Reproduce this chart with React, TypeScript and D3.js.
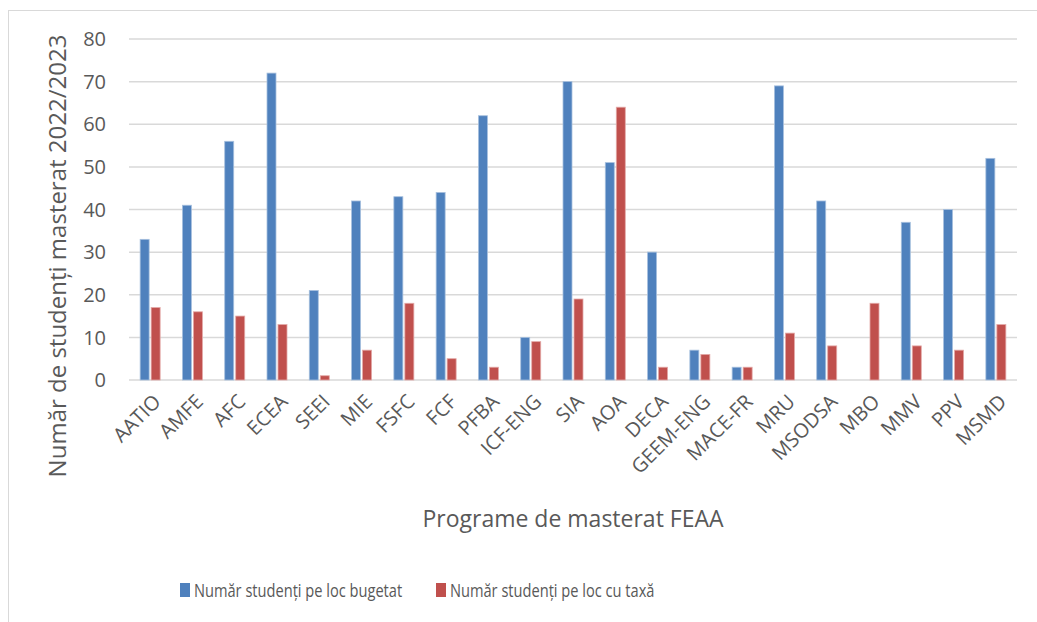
import React, { useRef, useEffect } from 'react';
import * as d3 from 'd3';

const programs = ['AATIO', 'AMFE', 'AFC', 'ECEA', 'SEEI', 'MIE', 'FSFC', 'FCF', 'PFBA', 'ICF-ENG', 'SIA', 'AOA', 'DECA', 'GEEM-ENG', 'MACE-FR', 'MRU', 'MSODSA', 'MBO', 'MMV', 'PPV', 'MSMD'];
const budgetValues = [33, 41, 56, 72, 21, 42, 43, 44, 62, 10, 70, 51, 30, 7, 3, 69, 42, 0, 37, 40, 52];
const feeValues = [17, 16, 15, 13, 1, 7, 18, 5, 3, 9, 19, 64, 3, 6, 3, 11, 8, 18, 8, 7, 13];
const seriesNames = ['Număr studenți pe loc bugetat', 'Număr studenți pe loc cu taxă'];
const yTicks = [0, 10, 20, 30, 40, 50, 60, 70, 80];

const App: React.FC = () => {
  const svgRef = useRef<SVGSVGElement>(null);

  useEffect(() => {
    if (!svgRef.current) return;
    const svg = d3.select(svgRef.current);
    svg.selectAll('*').remove();

    const width = 1037;
    const height = 622;
    const font = "'Open Sans', sans-serif";
    const textColor = '#595959';
    const colors = ['#4F81BD', '#C0504D'];
    const plot = { left: 129, right: 1017, top: 39, bottom: 380 };

    svg.attr('width', width).attr('height', height);

    svg.append('rect')
      .attr('x', 8.5).attr('y', 10.5)
      .attr('width', 1040).attr('height', 640)
      .attr('fill', 'white')
      .attr('stroke', '#D9D9D9');

    const x = d3.scaleBand<string>()
      .domain(programs)
      .range([plot.left, plot.right]);

    const y = d3.scaleLinear()
      .domain([0, 80])
      .range([plot.bottom, plot.top]);

    // gridlines
    svg.append('g')
      .selectAll('line')
      .data(yTicks)
      .enter().append('line')
      .attr('x1', plot.left).attr('x2', plot.right)
      .attr('y1', d => y(d)).attr('y2', d => y(d))
      .attr('stroke', '#D9D9D9')
      .attr('stroke-width', 1.5);

    // y tick labels
    svg.append('g')
      .selectAll('text')
      .data(yTicks)
      .enter().append('text')
      .attr('x', 106)
      .attr('y', d => y(d))
      .attr('dy', '0.36em')
      .attr('text-anchor', 'end')
      .attr('font-family', font)
      .attr('font-size', 20)
      .attr('fill', textColor)
      .text(d => d);

    const barW = 9;
    const rows = programs.map((p, i) => ({ p, vals: [budgetValues[i], feeValues[i]] }));

    const groups = svg.append('g')
      .selectAll('g')
      .data(rows)
      .enter().append('g')
      .attr('transform', d => `translate(${x(d.p)! + x.bandwidth() / 2},0)`);

    groups.selectAll('rect')
      .data(d => d.vals.map((v, k) => ({ v, k })))
      .enter().append('rect')
      .filter(d => d.v > 0)
      .attr('x', d => (d.k === 0 ? -barW - 1 : 1))
      .attr('y', d => y(d.v))
      .attr('width', barW)
      .attr('height', d => y(0) - y(d.v))
      .attr('fill', d => colors[d.k])
      .attr('stroke', d => (d.k === 0 ? '#A7C0DE' : '#E3A9A7'))
      .attr('stroke-width', 0.8);

    // x labels
    svg.append('g')
      .selectAll('text')
      .data(programs)
      .enter().append('text')
      .attr('transform', d => `translate(${x(d)! + x.bandwidth() / 2 + 7},${plot.bottom + 18}) rotate(-45)`)
      .attr('text-anchor', 'end')
      .attr('dy', '0.35em')
      .attr('font-family', font)
      .attr('font-size', 20)
      .attr('fill', textColor)
      .text(d => d);

    // axis titles
    svg.append('text')
      .attr('x', (plot.left + plot.right) / 2)
      .attr('y', 527)
      .attr('text-anchor', 'middle')
      .attr('font-family', font)
      .attr('font-size', 23)
      .attr('fill', textColor)
      .text('Programe de masterat FEAA');

    svg.append('text')
      .attr('transform', `translate(66,256) rotate(-90)`)
      .attr('text-anchor', 'middle')
      .attr('font-family', font)
      .attr('font-size', 24)
      .attr('fill', textColor)
      .text('Număr de studenți masterat 2022/2023');

    // legend
    const legendX = [180, 436];
    const legend = svg.append('g')
      .selectAll('g')
      .data(seriesNames)
      .enter().append('g')
      .attr('transform', (_d, i) => `translate(${legendX[i]},590)`);

    legend.append('rect')
      .attr('x', 0).attr('y', -7)
      .attr('width', 10).attr('height', 14)
      .attr('fill', (_d, i) => colors[i]);

    // narrow the legend text to match the condensed look of the original
    legend.append('text')
      .attr('transform', 'translate(14,0) scale(0.77,1)')
      .attr('dy', '0.36em')
      .attr('font-family', font)
      .attr('font-size', 19)
      .attr('fill', textColor)
      .text(d => d);
  }, []);

  return <svg ref={svgRef} style={{ position: 'absolute', left: 0, top: 0 }}></svg>;
};

export default App;
